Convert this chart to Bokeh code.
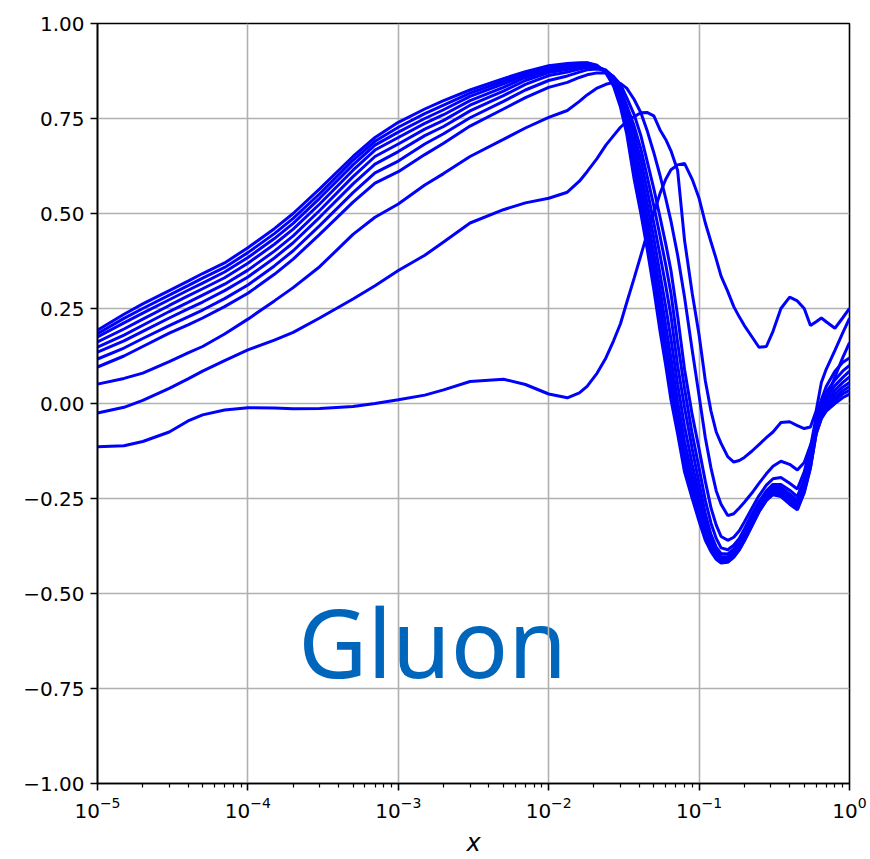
from bokeh.plotting import figure
from bokeh.models import Range1d, FixedTicker, Label
from bokeh.embed import file_html
from bokeh.resources import INLINE

# ---- data ----
x_grid = [1e-5, 1.5e-5, 2e-5, 3e-5, 4e-5, 5e-5, 7e-5, 1e-4, 1.5e-4, 2e-4,
          3e-4, 5e-4, 7e-4, 1e-3, 1.5e-3, 2e-3, 3e-3, 5e-3, 7e-3, 1e-2,
          0.0133, 0.016, 0.018, 0.021, 0.024, 0.027, 0.03, 0.033, 0.037, 0.041,
          0.045, 0.05, 0.055, 0.06, 0.065, 0.072, 0.08, 0.09, 0.1,
          0.11, 0.12, 0.13, 0.14, 0.155, 0.17, 0.185, 0.2, 0.225, 0.25,
          0.28, 0.31, 0.35, 0.4, 0.45, 0.5, 0.55, 0.6, 0.65, 0.7, 0.8, 0.9, 1.0]

curve_a = [-.114, -.111, -.10, -.075, -.046, -.03, -.017, -.011, -.012, -.014,
           -.013, -.008, .0, .01, .022, .036, .058, .064, .05, .025,
           .015, .028, .045, .08, .12, .165, .21, .265, .33, .39,
           .445, .50, .553, .59, .615, .628, .632, .59, .54,
           .475, .425, .38, .335, .295, .255, .228, .205, .175, .148,
           .15, .19, .25, .28, .27, .25, .205, .215, .225, .215, .198, .225, .25]
curve_b = [-.025, -.01, .008, .04, .065, .085, .113, .141, .167, .187,
           .225, .275, .31, .35, .39, .425, .475, .51, .528, .54,
           .556, .585, .61, .645, .68, .705, .727, .742, .755, .765,
           .766, .757, .72, .695, .665, .613, .43, .29, .18,
           .06, -.02, -.075, -.105, -.14, -.154, -.15, -.142, -.125, -.108,
           -.09, -.075, -.05, -.048, -.058, -.066, -.062, -.02, .055, .09, .14, .185, .224]
curve_c = [.051, .066, .08, .11, .133, .15, .183, .222, .27, .305,
           .36, .445, .49, .525, .575, .605, .65, .695, .725, .753,
           .771, .795, .812, .83, .84, .845, .842, .83, .80, .765,
           .72, .66, .60, .54, .48, .39, .28, .14, .02,
           -.09, -.17, -.23, -.265, -.295, -.29, -.275, -.26, -.235, -.21,
           -.185, -.165, -.152, -.16, -.175, -.155, -.11, -.07, -.03, .01, .07, .12, .16]
curve_d = [.096, .125, .15, .185, .207, .225, .255, .29, .34, .38,
           .445, .53, .58, .61, .655, .685, .73, .775, .805, .832,
           .845, .858, .865, .87, .87, .86, .84, .805, .76, .705,
           .64, .565, .49, .42, .35, .23, .09, -.03, -.12,
           -.205, -.275, -.32, -.35, -.36, -.352, -.335, -.312, -.275, -.243,
           -.215, -.198, -.195, -.21, -.225, -.18, -.115, -.035, .01, .045, .085, .108, .12]
curve_e = [.117, .146, .171, .205, .228, .246, .276, .312, .362, .402,
           .468, .555, .607, .638, .683, .71, .752, .795, .825, .85,
           .862, .872, .878, .88, .876, .86, .83, .785, .73, .67,
           .60, .52, .44, .365, .29, .16, .04, -.08, -.17,
           -.255, -.315, -.355, -.38, -.385, -.373, -.355, -.33, -.29, -.258,
           -.23, -.213, -.213, -.228, -.245, -.198, -.13, -.045, -.002, .03, .062, .085, .10]
curve_f = [.135, .165, .19, .225, .249, .267, .297, .333, .383, .423,
           .49, .578, .63, .663, .705, .729, .77, .81, .84, .863,
           .872, .88, .885, .884, .877, .858, .82, .77, .71, .64,
           .565, .475, .39, .31, .23, .10, -.01, -.12, -.21,
           -.29, -.345, -.378, -.395, -.396, -.383, -.365, -.34, -.30, -.267,
           -.238, -.22, -.221, -.238, -.255, -.208, -.14, -.055, -.012, .016, .047, .068, .085]
curve_g = [.148, .18, .206, .242, .266, .285, .314, .351, .401, .441,
           .508, .597, .65, .683, .722, .745, .785, .822, .85, .871,
           .879, .886, .889, .886, .877, .855, .81, .755, .685, .61,
           .53, .435, .34, .255, .17, .05, -.06, -.16, -.24,
           -.31, -.36, -.388, -.403, -.403, -.39, -.372, -.347, -.307, -.273,
           -.243, -.225, -.227, -.245, -.262, -.215, -.148, -.062, -.02, .008, .035, .055, .07]
curve_h = [.162, .196, .222, .258, .283, .302, .331, .369, .419, .459,
           .525, .614, .667, .70, .737, .76, .797, .832, .858, .877,
           .885, .89, .892, .886, .876, .85, .80, .74, .66, .58,
           .495, .395, .30, .205, .12, .005, -.10, -.19, -.265,
           -.325, -.37, -.395, -.408, -.408, -.396, -.378, -.353, -.313, -.278,
           -.248, -.23, -.232, -.25, -.268, -.222, -.155, -.07, -.027, .0, .025, .043, .055]
curve_i = [.175, .212, .238, .273, .298, .317, .346, .384, .434, .474,
           .54, .628, .68, .714, .75, .773, .808, .841, .864, .882,
           .889, .893, .894, .887, .874, .845, .795, .73, .64, .555,
           .465, .36, .26, .165, .08, -.03, -.13, -.215, -.285,
           -.34, -.38, -.40, -.413, -.413, -.40, -.382, -.358, -.318, -.282,
           -.252, -.234, -.236, -.256, -.274, -.228, -.162, -.075, -.033, -.008, .016, .033, .045]
curve_j = [.184, .224, .25, .285, .31, .33, .358, .397, .447, .487,
           .552, .64, .69, .727, .763, .785, .817, .848, .869, .886,
           .892, .895, .896, .888, .872, .84, .787, .72, .615, .53,
           .44, .33, .225, .135, .045, -.06, -.155, -.235, -.30,
           -.35, -.385, -.405, -.417, -.416, -.403, -.385, -.362, -.322, -.285,
           -.255, -.237, -.24, -.26, -.278, -.232, -.168, -.08, -.038, -.015, .008, .025, .035]
curve_k = [.193, .235, .262, .297, .322, .342, .37, .41, .46, .50,
           .565, .65, .70, .74, .775, .797, .825, .855, .873, .889,
           .895, .897, .897, .89, .87, .835, .78, .71, .59, .50,
           .41, .30, .19, .10, .01, -.08, -.18, -.25, -.31,
           -.36, -.39, -.41, -.42, -.418, -.405, -.385, -.36, -.32, -.285,
           -.255, -.24, -.245, -.265, -.28, -.235, -.17, -.08, -.04, -.02, .0, .015, .025]

curves = [curve_a, curve_b, curve_c, curve_d, curve_e, curve_f,
          curve_g, curve_h, curve_i, curve_j, curve_k]

x_ticks = [1e-5, 1e-4, 1e-3, 1e-2, 1e-1, 1.0]
y_ticks = [-1.0, -0.75, -0.5, -0.25, 0.0, 0.25, 0.5, 0.75, 1.0]
y_tick_labels = ["\u22121.00", "\u22120.75", "\u22120.50", "\u22120.25", "0.00",
                 "0.25", "0.50", "0.75", "1.00"]
title_text = "Gluon"
x_label = "x"

# ---- figure ----
p = figure(width=870, height=859, x_axis_type="log",
           x_range=Range1d(1e-5, 1.0), y_range=Range1d(-1.0, 1.0),
           output_backend="svg", toolbar_location=None,
           min_border_left=97, min_border_right=21,
           min_border_top=23, min_border_bottom=75)
p.background_fill_color = "white"
p.border_fill_color = "white"
p.outline_line_color = "black"
p.outline_line_width = 1.6

minor = [m * d for d in x_ticks[:-1] for m in range(2, 10)]
p.xaxis.ticker = FixedTicker(ticks=x_ticks, minor_ticks=minor)
p.yaxis.ticker = FixedTicker(ticks=y_ticks)
p.yaxis.major_label_overrides = {t: l for t, l in zip(y_ticks, y_tick_labels)}

for ax in (p.xaxis, p.yaxis):
    ax.axis_line_color = "black"
    ax.axis_line_width = 1.6
    ax.major_tick_line_color = "black"
    ax.major_tick_line_width = 1.6
    ax.major_tick_out = 7
    ax.major_tick_in = 0
    ax.minor_tick_line_color = "black"
    ax.minor_tick_line_width = 1.2
    ax.minor_tick_out = 4
    ax.minor_tick_in = 0
    ax.major_label_text_font = "DejaVu Sans"
    ax.major_label_text_font_size = "20px"
    ax.major_label_text_color = "black"
    ax.major_label_standoff = 6
p.yaxis.minor_tick_line_color = None

p.xaxis.axis_label = x_label
p.xaxis.axis_label_text_font = "DejaVu Sans"
p.xaxis.axis_label_text_font_style = "italic"
p.xaxis.axis_label_text_font_size = "24px"
p.xaxis.axis_label_text_color = "black"
p.xaxis.axis_label_standoff = 8

for g in (p.xgrid, p.ygrid):
    g.grid_line_color = "#b0b0b0"
    g.grid_line_width = 1.6

p.add_layout(Label(x=1.69e-3, y=-0.624, text=title_text, text_font="Noto Sans",
                   text_font_size="95px", text_color="#0066bb",
                   text_align="center", text_baseline="alphabetic",
                   level="image"))

for c in curves:
    p.line(x_grid, c, line_color="#0000ff", line_width=3)

open("out.html", "w").write(file_html(p, INLINE))
